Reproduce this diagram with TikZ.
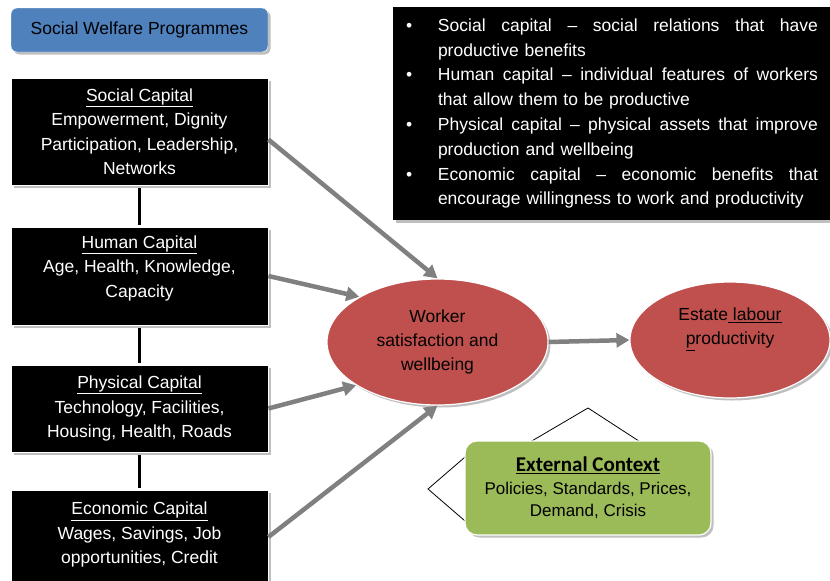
\documentclass[tikz,border=0pt]{standalone}
\usepackage{fontspec}
\setmainfont{Liberation Sans}
\newfontfamily\headfont{Carlito}
\usetikzlibrary{arrows.meta,shadows,shapes.geometric}

\newcommand{\bulletrow}[2]{\makebox[45pt][l]{\hspace{13pt}\textbullet}{\spaceskip=0pt\xspaceskip=0pt\makebox[380pt][s]{#1}}\\\hspace*{45pt}#2}

\begin{document}
\begin{tikzpicture}[x=1pt,y=-1pt,
    shade/.style={drop shadow={shadow xshift=2.5pt,shadow yshift=-2.5pt,fill=black!25,opacity=1}},
    capbox/.style={shade,draw=white,line width=0.8pt,fill=black,text=white,
      minimum width=257pt,inner sep=0pt,align=center,
      font=\fontsize{17.5}{24.5}\selectfont},
    blob/.style={shade,ellipse,draw=white,line width=1.2pt,
      inner sep=0pt,align=center,font=\fontsize{17.5}{24}\selectfont},
    link/.style={line width=3pt,shorten <=3pt,shorten >=2pt},
    feed/.style={draw=black!50,line width=4.5pt,-{Triangle[length=13pt,width=14pt]}}]
  \definecolor{welfare}{HTML}{4F81BD}
  \definecolor{worker}{HTML}{C0504D}
  \definecolor{context}{HTML}{9BBB59}
  \useasboundingbox (0,0) rectangle (830,581);

  \node[shade,rounded corners=6pt,draw=white,fill=welfare,minimum width=257pt,
    minimum height=44pt,font=\fontsize{17.5}{22}\selectfont] (welfare) at (139.5,30)
    {Social Welfare Programmes};

  \node[capbox,minimum height=107pt] (social) at (139.5,131.5)
    {\underline{Social Capital}\\Empowerment, Dignity\\Participation, Leadership,\\Networks};
  \node[capbox,minimum height=98pt,text depth=19pt] (human) at (139.5,276)
    {\underline{Human Capital}\\Age, Health, Knowledge,\\Capacity};
  \node[capbox,minimum height=87pt] (physical) at (139.5,408.5)
    {\underline{Physical Capital}\\Technology, Facilities,\\Housing, Health, Roads};
  \node[capbox,minimum height=100pt,text depth=14pt] (economic) at (139.5,540)
    {\underline{Economic Capital}\\Wages, Savings, Job\\opportunities, Credit};

  \node[shade,fill=black,text=white,text width=437pt,minimum height=213pt,inner sep=0pt,
    align=left,font=\fontsize{17.5}{24.8}\selectfont] (notes) at (611.5,113.5)
    {\bulletrow{Social capital -- social relations that have}{productive benefits}\\
     \bulletrow{Human capital -- individual features of workers}{that allow them to be productive}\\
     \bulletrow{Physical capital -- physical assets that improve}{production and wellbeing}\\
     \bulletrow{Economic capital -- economic benefits that}{encourage willingness to work and productivity}};

  \node[blob,fill=worker,minimum width=221pt,minimum height=126pt] (worker) at (437.5,342)
    {Worker\\satisfaction and\\wellbeing};
  \node[blob,fill=worker,minimum width=200pt,minimum height=116pt,text depth=27pt] (estate) at (730,340)
    {Estate\underline{\ labour}\\\underline{p}roductivity};

  % frame behind the context box
  \draw[line width=0.8pt] (472,451) -- (428,489) -- (472,527);
  \draw[line width=0.8pt] (525,445) -- (588,408) -- (645,445);
  \node[shade,rounded corners=12pt,draw=white,line width=1.2pt,fill=context,
    minimum width=246pt,minimum height=94pt,align=center,
    font=\fontsize{17}{22.5}\selectfont] (context) at (588,488)
    {{\headfont\bfseries\fontsize{21}{22.5}\selectfont\underline{External Context}}\\Policies, Standards, Prices,\\Demand, Crisis};

  \begin{scope}
    \draw[link] (social) -- (human);
    \draw[link] (human) -- (physical);
    \draw[link] (physical) -- (economic);
  \end{scope}
  \begin{scope}[feed]
    \draw ([yshift=-8pt]social.east) -- (worker.north);
    \draw (human.east) -- (worker.150);
    \draw (physical.east) -- (worker.208);
    \draw ([yshift=3pt]economic.east) -- (worker.south);
    \draw (worker.east) -- (estate.west);
  \end{scope}
\end{tikzpicture}
\end{document}
